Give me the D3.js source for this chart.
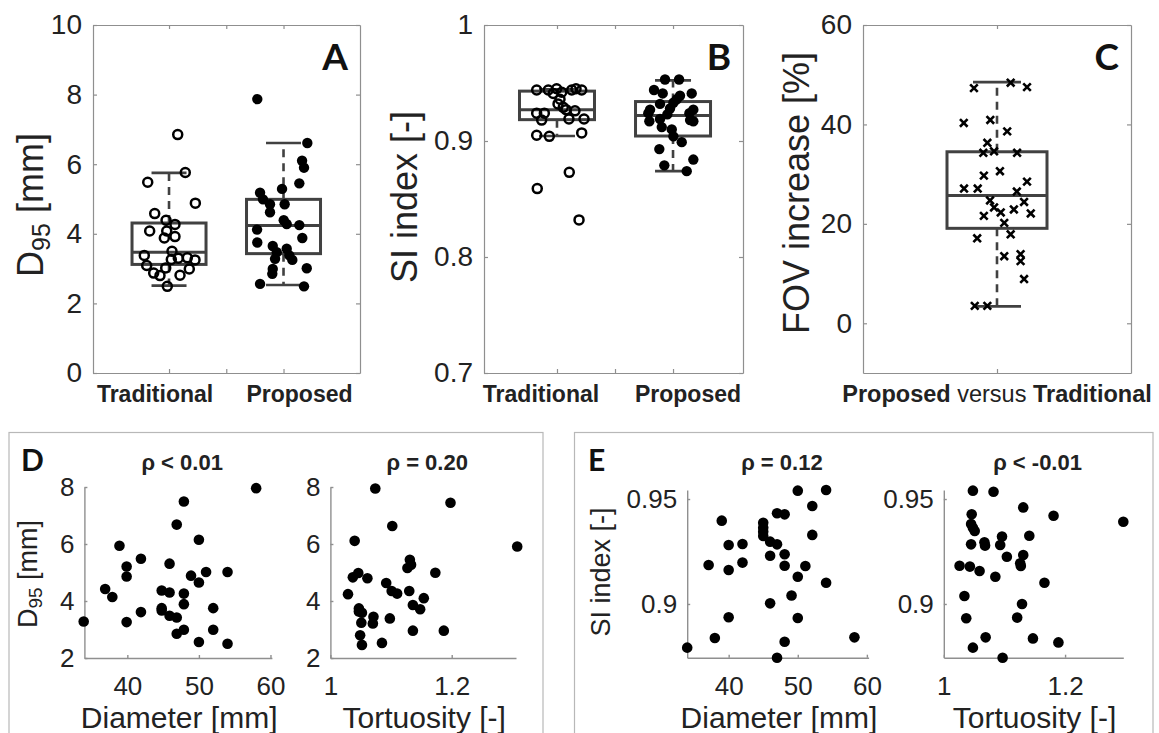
<!DOCTYPE html>
<html>
<head>
<meta charset="utf-8">
<script src="https://cdn.jsdelivr.net/npm/d3@7"></script>
<style>
  body { margin: 0; background: #fff; }
  text { font-family: "Liberation Sans", Arial, sans-serif; fill: #222; }
  text.letter { font-family: Lato, "Open Sans", sans-serif; font-weight: 700; fill: #111; }
</style>
</head>
<body>
<svg id="fig" width="1159" height="733"></svg>
<script>
// ---- data ----
const categories = ["Traditional", "Proposed"];

// panel A, D95 [mm]  (jitter = horizontal offset in category units)
const d95Trad = [6.85, 5.48, 5.76, 4.88, 4.58, 4.39, 4.27, 4.08, 4.08, 3.88, 3.92, 3.50, 3.38, 3.26, 3.30, 3.31, 3.25, 3.09, 3.02, 2.99, 2.87, 2.80, 2.81, 2.49];
const d95TradJit = [0.076, -0.186, 0.142, 0.230, -0.125, -0.026, 0.052, -0.169, -0.020, -0.041, 0.052, 0.026, -0.216, 0.020, 0.081, 0.160, 0.227, -0.195, -0.029, 0.177, -0.134, -0.079, 0.096, -0.015];
const d95Prop = [7.87, 6.61, 6.10, 5.90, 5.45, 5.29, 5.18, 4.99, 4.85, 4.85, 4.62, 4.39, 4.28, 4.25, 4.12, 3.88, 3.75, 3.65, 3.57, 3.47, 3.38, 3.28, 3.25, 3.01, 2.99, 2.85, 2.56, 2.49];
const d95PropJit = [-0.229, 0.208, 0.162, 0.179, 0.138, -0.013, -0.205, -0.179, -0.118, 0.010, -0.118, 0.002, 0.028, 0.138, -0.231, 0.164, -0.229, -0.094, 0.028, -0.059, 0.051, -0.074, 0.077, 0.203, -0.094, -0.098, -0.205, 0.179];
// box stats: [lower whisker, q1, median, q3, upper whisker]
const d95TradBox = [2.51, 3.12, 3.47, 4.31, 5.75];
const d95PropBox = [2.53, 3.43, 4.24, 4.99, 6.61];

// panel B, SI index [-]
const siTrad = [0.944, 0.944, 0.945, 0.941, 0.942, 0.944, 0.944, 0.945, 0.936, 0.929, 0.926, 0.924, 0.924, 0.918, 0.919, 0.919, 0.905, 0.904, 0.907, 0.873, 0.859, 0.832, 0.932, 0.927];
const siTradJit = [-0.175, -0.075, -0.003, -0.032, 0.041, 0.127, 0.213, 0.164, 0.026, 0.054, 0.155, -0.175, -0.109, -0.132, 0.103, 0.233, -0.175, -0.066, 0.213, 0.106, -0.170, 0.190, 0.009, 0.078];
const siProp = [0.953, 0.953, 0.944, 0.941, 0.941, 0.939, 0.936, 0.933, 0.932, 0.927, 0.928, 0.927, 0.923, 0.924, 0.919, 0.924, 0.918, 0.917, 0.917, 0.912, 0.910, 0.904, 0.899, 0.893, 0.884, 0.879, 0.874];
const siPropJit = [-0.069, 0.052, -0.164, -0.089, 0.161, 0.060, 0.032, 0.003, -0.112, -0.198, -0.026, 0.175, -0.049, -0.213, -0.112, 0.141, 0.147, 0.175, -0.204, -0.097, -0.011, 0.003, 0.075, -0.118, 0.175, -0.075, 0.118];
const siTradBox = [0.9043, 0.9184, 0.927, 0.943, 0.9445];
const siPropBox = [0.874, 0.9043, 0.922, 0.934, 0.9523];

// panel C, FOV increase [%]
const fovInc = [47.3, 48.4, 47.5, 40.3, 40.9, 38.6, 36.3, 34.3, 34.6, 34.3, 29.7, 30.6, 27.1, 27.1, 28.5, 26.5, 24.7, 23.3, 24.4, 22.3, 22.9, 22.1, 21.6, 20.2, 17.9, 17.1, 13.5, 13.9, 12.5, 8.9, 3.5, 3.5];
const fovJit = [-0.086, 0.051, 0.112, -0.124, -0.025, 0.038, -0.036, -0.051, -0.011, 0.075, -0.049, 0.011, -0.123, -0.072, 0.112, 0.074, -0.026, -0.011, 0.101, 0.014, 0.063, 0.126, -0.049, 0.027, 0.051, -0.074, 0.027, 0.088, 0.088, 0.101, -0.083, -0.036];
const fovBox = [3.4, 19.1, 25.7, 34.5, 48.5];

// panel D, D95 against diameter and tortuosity
const dDiam = [33.9, 36.9, 37.9, 38.9, 39.9, 39.9, 39.9, 41.9, 41.9, 44.8, 44.8, 44.8, 45.9, 45.9, 45.9, 46.9, 46.9, 46.9, 47.9, 47.9, 47.9, 47.9, 48.9, 50.0, 50.0, 50.0, 51.0, 52.0, 52.0, 54.0, 54.0, 58.0];
const dDiamD95 = [3.28, 4.42, 4.14, 5.94, 5.21, 4.86, 3.26, 5.48, 3.61, 4.37, 3.75, 3.67, 5.31, 4.30, 3.48, 3.42, 6.68, 2.85, 7.49, 4.26, 3.89, 2.99, 4.89, 6.15, 4.65, 2.56, 5.02, 3.75, 2.99, 5.02, 2.50, 7.96];
const dTort = [1.074, 1.198, 1.102, 1.040, 1.308, 1.131, 1.133, 1.127, 1.173, 1.046, 1.037, 1.061, 1.092, 1.101, 1.110, 1.130, 1.154, 1.029, 1.136, 1.148, 1.047, 1.047, 1.052, 1.071, 1.098, 1.070, 1.051, 1.049, 1.136, 1.187, 1.085, 1.052];
const dTortD95 = [7.95, 7.45, 6.63, 6.11, 5.91, 5.45, 5.27, 5.16, 4.99, 4.98, 4.83, 4.80, 4.63, 4.35, 4.26, 4.35, 4.10, 4.24, 3.86, 3.71, 3.74, 3.63, 3.59, 3.45, 3.39, 3.21, 3.24, 2.80, 2.96, 2.96, 2.53, 2.46];

// panel E, SI index against diameter and tortuosity
const eDiam = [34.0, 38.0, 37.1, 39.0, 40.0, 40.0, 40.0, 42.0, 42.0, 45.0, 45.0, 45.0, 45.0, 46.0, 47.0, 46.0, 47.0, 48.1, 48.1, 48.1, 46.0, 47.0, 48.1, 49.1, 50.0, 50.0, 50.0, 51.1, 52.1, 52.1, 54.1, 54.1, 58.2];
const eDiamSI = [0.8792, 0.8838, 0.9186, 0.9397, 0.9281, 0.9162, 0.8937, 0.9286, 0.9197, 0.9387, 0.9363, 0.9344, 0.9324, 0.9297, 0.9284, 0.9230, 0.9432, 0.9427, 0.9237, 0.9182, 0.9003, 0.8744, 0.8820, 0.9040, 0.9540, 0.9130, 0.8933, 0.9181, 0.9467, 0.9329, 0.9543, 0.9101, 0.8841];
const eTort = [1.048, 1.082, 1.131, 1.181, 1.296, 1.046, 1.045, 1.048, 1.051, 1.096, 1.141, 1.045, 1.067, 1.068, 1.093, 1.104, 1.131, 1.126, 1.127, 1.026, 1.043, 1.059, 1.085, 1.166, 1.034, 1.129, 1.037, 1.121, 1.069, 1.147, 1.189, 1.048, 1.097];
const eTortSI = [0.9540, 0.9535, 0.9460, 0.9420, 0.9392, 0.9427, 0.9381, 0.9363, 0.9348, 0.9321, 0.9325, 0.9284, 0.9294, 0.9278, 0.9281, 0.9225, 0.9233, 0.9194, 0.9181, 0.9182, 0.9178, 0.9157, 0.9130, 0.9101, 0.9038, 0.9000, 0.8932, 0.8935, 0.8841, 0.8836, 0.8817, 0.8792, 0.8744];

// ---- drawing ----
const svg = d3.select("#fig");
const axisColor = "#8f8f8f";
const boxColor = "#414141";
const fmt = d3.format("~g");

// top row: box plots with jittered points
function boxPanel(o) {
  const g = svg.append("g");
  const top = 25, bottom = 373;
  const x = d3.scaleLinear().domain(o.xDom).range([o.x0, o.x1]);
  const y = d3.scaleLinear().domain(o.yDom).range([bottom, top]);

  g.append("g").attr("transform", `translate(${o.x0},0)`)
    .call(d3.axisLeft(y).tickValues(o.yTicks).tickSize(-4).tickSizeOuter(0).tickPadding(11).tickFormat(fmt));
  g.append("g").attr("transform", `translate(${o.x1},0)`)
    .call(d3.axisRight(y).tickValues(o.yTicks).tickSize(-4).tickSizeOuter(0).tickFormat(""));
  g.append("g").attr("transform", `translate(0,${bottom})`)
    .call(d3.axisBottom(x).tickValues(o.xTicks).tickSize(-4).tickSizeOuter(0).tickFormat(""));
  g.append("g").attr("transform", `translate(0,${top})`)
    .call(d3.axisTop(x).tickValues(o.xTicks).tickSize(-4).tickSizeOuter(0).tickFormat(""));
  g.selectAll(".domain, .tick line").attr("stroke", axisColor).attr("stroke-width", 1.2);
  g.selectAll(".tick text").attr("font-size", 28).attr("fill", "#222");

  // boxes
  o.groups.forEach(gr => {
    const cx = x(gr.pos);
    const [lo, q1, med, q3, hi] = gr.box;
    const line = (x1, y1, x2, y2) => g.append("line")
      .attr("x1", x1).attr("y1", y1).attr("x2", x2).attr("y2", y2)
      .attr("stroke", boxColor).attr("stroke-width", 2.6);
    line(cx, y(q3), cx, y(hi)).attr("stroke-dasharray", "8,6");
    line(cx, y(q1), cx, y(lo)).attr("stroke-dasharray", "8,6");
    line(cx - o.cap, y(hi), cx + o.cap, y(hi));
    line(cx - o.cap, y(lo), cx + o.cap, y(lo));
    g.append("rect")
      .attr("x", cx - o.half).attr("y", y(q3))
      .attr("width", 2 * o.half).attr("height", y(q1) - y(q3))
      .attr("fill", "none").attr("stroke", boxColor).attr("stroke-width", 3);
    line(cx - o.half, y(med), cx + o.half, y(med)).attr("stroke-width", 3);
  });

  // points
  o.groups.forEach(gr => {
    const pts = gr.values.map((v, i) => ({ x: gr.pos + gr.jit[i], y: v }));
    if (gr.marker === "cross") {
      g.append("g").selectAll("path").data(pts).join("path")
        .attr("transform", d => `translate(${x(d.x)},${y(d.y)})`)
        .attr("d", "M-3.8,-3.8L3.8,3.8M-3.8,3.8L3.8,-3.8")
        .attr("stroke", "#000").attr("stroke-width", 2.6);
    } else {
      g.append("g").selectAll("circle").data(pts).join("circle")
        .attr("cx", d => x(d.x)).attr("cy", d => y(d.y))
        .attr("r", gr.marker === "open" ? 4.5 : 5.2)
        .attr("fill", gr.marker === "open" ? "none" : "#000")
        .attr("stroke", "#000").attr("stroke-width", gr.marker === "open" ? 2.5 : 0);
    }
  });

  // panel letter
  g.append("text").attr("class", "letter")
    .attr("x", o.x1 - 12).attr("y", 70).attr("text-anchor", "end")
    .attr("font-size", 37).text(o.letter);

  // y label
  const yl = g.append("text")
    .attr("transform", `translate(${o.ylabX},${o.ylabY}) rotate(-90)`)
    .attr("text-anchor", "middle").attr("font-size", 36);
  o.ylabel(yl);

  // category labels
  const cat = g.append("text").attr("y", 402).attr("font-size", 23);
  o.catLabel(cat, x);
  return g;
}

boxPanel({
  x0: 93, x1: 360, xDom: [0.336, 2.668], xTicks: [1, 1.5, 2],
  yDom: [0, 10], yTicks: [0, 2, 4, 6, 8, 10],
  groups: [
    { pos: 1, box: d95TradBox, values: d95Trad, jit: d95TradJit, marker: "open" },
    { pos: 2, box: d95PropBox, values: d95Prop, jit: d95PropJit, marker: "filled" }
  ],
  half: 37, cap: 17.5, letter: "A", ylabX: 43, ylabY: 205,
  ylabel: t => {
    t.append("tspan").text("D");
    t.append("tspan").attr("font-size", 25).attr("dy", 7).text("95");
    t.append("tspan").attr("dy", -7).text(" [mm]");
  },
  catLabel: (t, x) => {
    t.attr("font-weight", "bold");
    t.append("tspan").attr("x", x(1) - 14).attr("text-anchor", "middle").text(categories[0]);
    t.append("tspan").attr("x", x(2) + 16).attr("text-anchor", "middle").text(categories[1]);
  }
});

boxPanel({
  x0: 484, x1: 743, xDom: [0.371, 2.603], xTicks: [1, 1.5, 2],
  yDom: [0.7, 1], yTicks: [0.7, 0.8, 0.9, 1],
  groups: [
    { pos: 1, box: siTradBox, values: siTrad, jit: siTradJit, marker: "open" },
    { pos: 2, box: siPropBox, values: siProp, jit: siPropJit, marker: "filled" }
  ],
  half: 37.5, cap: 18, letter: "B", ylabX: 416.5, ylabY: 197,
  ylabel: t => t.text("SI index [-]"),
  catLabel: (t, x) => {
    t.attr("font-weight", "bold");
    t.append("tspan").attr("x", x(1) - 16).attr("text-anchor", "middle").text(categories[0]);
    t.append("tspan").attr("x", x(2) + 15).attr("text-anchor", "middle").text(categories[1]);
  }
});

boxPanel({
  x0: 863, x1: 1131, xDom: [0.5, 1.5], xTicks: [1],
  yDom: [-10, 60], yTicks: [0, 20, 40, 60],
  groups: [
    { pos: 1, box: fovBox, values: fovInc, jit: fovJit, marker: "cross" }
  ],
  half: 50, cap: 24, letter: "C", ylabX: 809, ylabY: 193,
  ylabel: t => t.text("FOV increase [%]"),
  catLabel: (t, x) => {
    t.attr("x", x(1)).attr("text-anchor", "middle").attr("font-size", 23.5);
    t.append("tspan").attr("font-weight", "bold").text("Proposed");
    t.append("tspan").text(" versus ");
    t.append("tspan").attr("font-weight", "bold").text("Traditional");
  }
});

// bottom row: correlation scatter plots
function scatter(o) {
  const g = svg.append("g");
  const x = d3.scaleLinear().domain(o.xDom).range([o.left, o.right]);
  const y = d3.scaleLinear().domain(o.yDom).range([o.bottom, o.top]);
  const xa = g.append("g").attr("transform", `translate(0,${o.bottom})`)
    .call(d3.axisBottom(x).tickValues(o.xTicks).tickSize(-3).tickSizeOuter(0).tickPadding(19).tickFormat(fmt));
  g.append("g").attr("transform", `translate(${o.left},0)`)
    .call(d3.axisLeft(y).tickValues(o.yTicks).tickSize(-3).tickSizeOuter(0).tickPadding(10).tickFormat(fmt));
  g.selectAll(".domain, .tick line").attr("stroke", axisColor).attr("stroke-width", 1.4);
  g.selectAll(".tick text").attr("font-size", 26).attr("fill", "#222");
  xa.selectAll(".tick text").attr("dy", null).attr("y", 37);

  g.append("g").selectAll("circle").data(o.xs.map((v, i) => [v, o.ys[i]])).join("circle")
    .attr("cx", d => x(d[0])).attr("cy", d => y(d[1])).attr("r", 5.3).attr("fill", "#000");

  g.append("text").attr("x", (o.left + o.right) / 2 + 4).attr("y", 470)
    .attr("text-anchor", "middle").attr("font-size", 22).attr("font-weight", "bold").text(o.title);
  g.append("text").attr("x", (o.left + o.right) / 2 + 1).attr("y", 728)
    .attr("text-anchor", "middle").attr("font-size", 30).text(o.xlabel);
  return g;
}

// panel frames
svg.append("rect").attr("x", 9).attr("y", 432.5).attr("width", 534).attr("height", 320)
  .attr("fill", "none").attr("stroke", "#b8b8b8").attr("stroke-width", 1.2);
svg.append("rect").attr("x", 574.5).attr("y", 432.5).attr("width", 578.5).attr("height", 320)
  .attr("fill", "none").attr("stroke", "#b8b8b8").attr("stroke-width", 1.2);

const yD = { yDom: [2, 8], yTicks: [2, 4, 6, 8], top: 487, bottom: 658 };
const yE = { yDom: [0.8744, 0.9543], yTicks: [0.9, 0.95], top: 490, bottom: 657.7 };

scatter({ ...yD, left: 84.4, right: 271.9, xDom: [34, 60.2], xTicks: [40, 50, 60],
  xs: dDiam, ys: dDiamD95, title: "ρ < 0.01", xlabel: "Diameter [mm]" });
scatter({ ...yD, left: 330.4, right: 516, xDom: [1, 1.306], xTicks: [1, 1.2],
  xs: dTort, ys: dTortD95, title: "ρ = 0.20", xlabel: "Tortuosity [-]" });
scatter({ ...yE, left: 687.2, right: 868.6, xDom: [34, 60.25], xTicks: [40, 50, 60],
  xs: eDiam, ys: eDiamSI, title: "ρ = 0.12", xlabel: "Diameter [mm]" });
scatter({ ...yE, left: 943.8, right: 1123.3, xDom: [1, 1.296], xTicks: [1, 1.2],
  xs: eTort, ys: eTortSI, title: "ρ < -0.01", xlabel: "Tortuosity [-]" });

// panel letters and y labels for the bottom row
svg.append("text").attr("class", "letter").attr("x", 21).attr("y", 470.5).attr("font-size", 30).text("D");
svg.append("text").attr("class", "letter").attr("x", 588).attr("y", 470.5).attr("font-size", 30).text("E");

const dl = svg.append("text").attr("transform", "translate(37,574) rotate(-90)")
  .attr("text-anchor", "middle").attr("font-size", 27);
dl.append("tspan").text("D");
dl.append("tspan").attr("font-size", 19).attr("dy", 5).text("95");
dl.append("tspan").attr("dy", -5).text(" [mm]");

svg.append("text").attr("transform", "translate(610,572) rotate(-90)")
  .attr("text-anchor", "middle").attr("font-size", 27).text("SI index [-]");
</script>
</body>
</html>
